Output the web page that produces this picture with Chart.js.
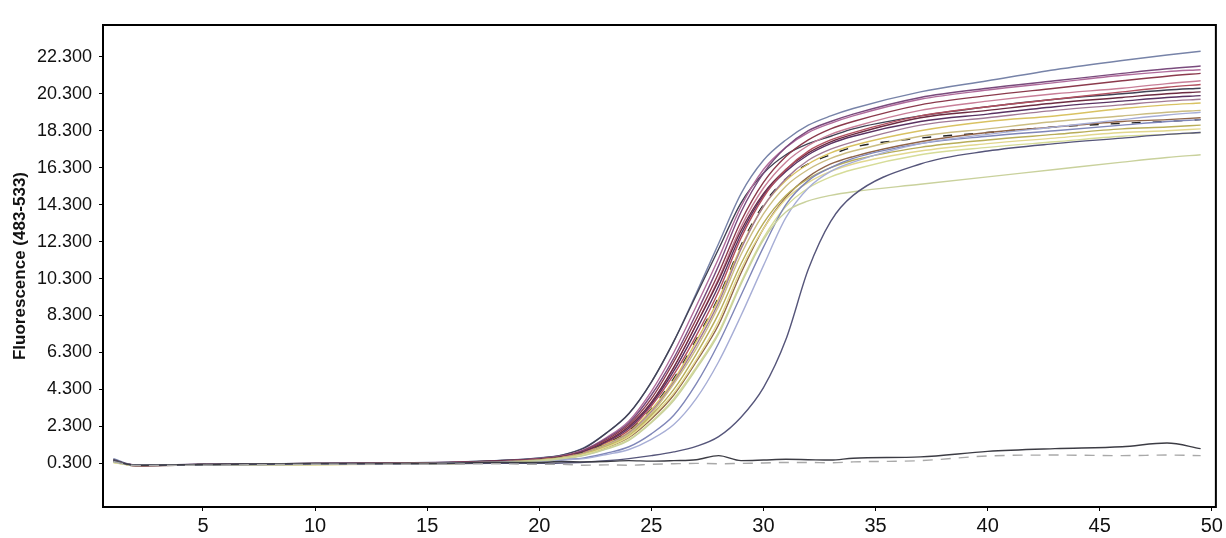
<!DOCTYPE html>
<html>
<head>
<meta charset="utf-8">
<script src="https://cdn.jsdelivr.net/npm/chart.js@4.4.1/dist/chart.umd.min.js"></script>
<style>
  body { margin: 0; background: #fff; }
  #wrap { width: 1226px; height: 538px; }
</style>
</head>
<body>
<div id="wrap"><canvas id="pcrChart" width="1226" height="538"></canvas></div>
<script>
const cycles = [1, 2, 5, 10, 15, 18, 20, 21, 22, 23, 24, 25, 26, 27, 28, 29, 30, 31, 32, 33, 34, 37, 40, 43, 46, 48, 49.5];
const xTicks = [5, 10, 15, 20, 25, 30, 35, 40, 45, 50];
const yTicks = [0.3, 2.3, 4.3, 6.3, 8.3, 10.3, 12.3, 14.3, 16.3, 18.3, 20.3, 22.3];

const sampleA = [0.55, 0.2, 0.25, 0.3, 0.35, 0.45, 0.6, 0.75, 1.15, 1.95, 3.0, 4.7, 6.9, 9.5, 12.2, 14.9, 16.7, 17.8, 18.6, 19.1, 19.5, 20.4, 21.0, 21.6, 22.1, 22.4, 22.6];
const sampleB = [0.5, 0.18, 0.22, 0.3, 0.33, 0.44, 0.58, 0.74, 1.12, 1.95, 3.0, 4.7, 6.9, 9.4, 11.9, 14.4, 16.0, 17.0, 17.6, 18.0, 18.4, 19.1, 19.6, 20.0, 20.3, 20.5, 20.6];
const sampleV = [0.45, 0.22, 0.24, 0.28, 0.34, 0.42, 0.56, 0.7, 1.05, 1.7, 2.6, 4.2, 6.3, 8.8, 11.4, 14.2, 16.2, 17.4, 18.2, 18.7, 19.1, 20.0, 20.5, 20.9, 21.3, 21.5, 21.6];
const sampleC = [0.4, 0.2, 0.25, 0.3, 0.3, 0.4, 0.55, 0.69, 1.02, 1.65, 2.5, 4.0, 6.0, 8.4, 11.0, 13.9, 16.0, 17.4, 18.3, 18.8, 19.2, 20.1, 20.6, 21.0, 21.4, 21.65, 21.8];
const sampleD = [0.42, 0.18, 0.23, 0.27, 0.32, 0.41, 0.54, 0.68, 0.98, 1.58, 2.4, 3.8, 5.8, 8.1, 10.6, 13.4, 15.5, 16.9, 17.8, 18.4, 18.8, 19.7, 20.2, 20.6, 21.0, 21.25, 21.4];
const sampleE = [0.4, 0.2, 0.22, 0.26, 0.3, 0.4, 0.52, 0.66, 0.95, 1.5, 2.3, 3.6, 5.5, 7.8, 10.3, 13.1, 15.2, 16.6, 17.5, 18.1, 18.5, 19.4, 19.9, 20.3, 20.6, 20.85, 21.0];
const sampleW = [0.48, 0.16, 0.24, 0.29, 0.31, 0.43, 0.53, 0.66, 0.95, 1.5, 2.3, 3.6, 5.5, 7.8, 10.2, 12.9, 14.9, 16.2, 17.1, 17.7, 18.1, 19.0, 19.4, 19.8, 20.1, 20.3, 20.4];
const sampleF = [0.45, 0.2, 0.23, 0.27, 0.3, 0.4, 0.51, 0.65, 0.93, 1.45, 2.2, 3.5, 5.3, 7.5, 9.9, 12.7, 14.8, 16.1, 17.0, 17.6, 18.0, 18.8, 19.2, 19.6, 19.9, 20.1, 20.2];
const sampleG = [0.42, 0.19, 0.22, 0.25, 0.3, 0.38, 0.5, 0.64, 0.9, 1.4, 2.1, 3.4, 5.1, 7.2, 9.6, 12.5, 14.7, 16.2, 17.2, 17.8, 18.2, 19.1, 19.6, 20.0, 20.4, 20.65, 20.8];
const sampleH = [0.4, 0.2, 0.21, 0.25, 0.28, 0.37, 0.49, 0.62, 0.87, 1.35, 2.0, 3.2, 4.8, 6.9, 9.2, 12.0, 14.2, 15.6, 16.5, 17.1, 17.5, 18.3, 18.8, 19.1, 19.5, 19.7, 19.8];
const sampleO = [0.45, 0.2, 0.24, 0.28, 0.3, 0.38, 0.5, 0.63, 0.89, 1.38, 2.05, 3.25, 4.9, 7.0, 9.3, 12.1, 14.3, 15.7, 16.5, 17.0, 17.4, 17.9, 18.2, 18.5, 18.7, 18.8, 18.9];
const sampleL = [0.4, 0.19, 0.23, 0.27, 0.3, 0.38, 0.48, 0.6, 0.85, 1.3, 1.95, 3.1, 4.7, 6.7, 9.0, 11.9, 14.2, 15.7, 16.7, 17.3, 17.7, 18.6, 19.0, 19.4, 19.7, 19.9, 20.0];
const sampleI = [0.38, 0.21, 0.22, 0.26, 0.29, 0.36, 0.47, 0.6, 0.83, 1.27, 1.9, 3.0, 4.6, 6.5, 8.8, 11.6, 13.8, 15.3, 16.2, 16.8, 17.2, 18.0, 18.4, 18.8, 19.1, 19.3, 19.4];
const sampleJ = [0.36, 0.2, 0.2, 0.24, 0.28, 0.35, 0.46, 0.58, 0.8, 1.22, 1.8, 2.9, 4.3, 6.2, 8.4, 11.1, 13.3, 14.8, 15.7, 16.3, 16.7, 17.4, 17.8, 18.1, 18.4, 18.5, 18.6];
const sampleM = [0.42, 0.2, 0.24, 0.27, 0.31, 0.37, 0.45, 0.56, 0.77, 1.15, 1.7, 2.7, 4.0, 5.8, 7.8, 10.6, 13.0, 14.7, 15.8, 16.5, 16.9, 17.7, 18.2, 18.5, 18.8, 18.9, 19.0];
const sampleK = [0.35, 0.18, 0.2, 0.23, 0.27, 0.34, 0.45, 0.57, 0.78, 1.18, 1.75, 2.8, 4.1, 5.9, 8.0, 10.8, 13.0, 14.6, 15.5, 16.1, 16.5, 17.2, 17.6, 17.9, 18.2, 18.3, 18.4];
const sampleN = [0.36, 0.2, 0.21, 0.24, 0.27, 0.33, 0.44, 0.55, 0.74, 1.1, 1.6, 2.55, 3.8, 5.5, 7.4, 10.1, 12.5, 14.2, 15.2, 15.8, 16.2, 17.0, 17.4, 17.7, 18.0, 18.1, 18.2];
const sampleR = [0.38, 0.19, 0.22, 0.25, 0.28, 0.34, 0.44, 0.55, 0.73, 1.07, 1.55, 2.5, 3.7, 5.4, 7.3, 10.0, 12.4, 13.9, 14.5, 14.8, 15.0, 15.4, 15.8, 16.2, 16.6, 16.85, 17.0];
const sampleP = [0.45, 0.2, 0.24, 0.27, 0.3, 0.36, 0.42, 0.5, 0.6, 0.85, 1.2, 1.9, 2.9, 4.6, 6.8, 9.4, 12.0, 14.3, 15.6, 16.3, 16.8, 17.6, 18.0, 18.3, 18.6, 18.8, 18.9];
const sampleQ = [0.4, 0.2, 0.22, 0.25, 0.28, 0.34, 0.4, 0.48, 0.56, 0.78, 1.05, 1.6, 2.4, 3.8, 5.8, 8.3, 11.0, 13.6, 15.2, 16.1, 16.6, 17.6, 18.1, 18.5, 18.9, 19.15, 19.3];
const sampleLate = [0.42, 0.2, 0.23, 0.26, 0.28, 0.3, 0.3, 0.32, 0.36, 0.44, 0.56, 0.72, 0.92, 1.22, 1.75, 2.8, 4.4, 7.0, 10.8, 13.4, 14.8, 16.5, 17.2, 17.6, 17.9, 18.1, 18.2];
const ntcDark = [0.45, 0.2, 0.24, 0.3, 0.3, 0.35, 0.35, 0.4, 0.38, 0.4, 0.45, 0.42, 0.45, 0.5, 0.72, 0.45, 0.48, 0.52, 0.5, 0.48, 0.58, 0.65, 0.95, 1.1, 1.2, 1.4, 1.1];
const ntcLight = [0.4, 0.18, 0.2, 0.25, 0.25, 0.28, 0.25, 0.25, 0.2, 0.22, 0.2, 0.25, 0.28, 0.3, 0.28, 0.3, 0.32, 0.35, 0.35, 0.33, 0.38, 0.45, 0.7, 0.75, 0.72, 0.75, 0.72];

const curves = [
  { values: ntcLight, color: '#a9a9a9', dash: [10, 8] },
  { values: ntcDark, color: '#3c3c44' },
  { values: sampleLate, color: '#55557a' },
  { values: sampleR, color: '#c9d19c' },
  { values: sampleQ, color: '#a7aed6' },
  { values: sampleP, color: '#7f86b8' },
  { values: sampleN, color: '#d6dc98' },
  { values: sampleK, color: '#e2d88e' },
  { values: sampleJ, color: '#b8ad58' },
  { values: sampleM, color: '#8f6448' },
  { values: sampleI, color: '#cbbd82' },
  { values: sampleL, color: '#a27a96' },
  { values: sampleH, color: '#d9c262' },
  { values: sampleO, color: '#222222', dash: [9, 12] },
  { values: sampleG, color: '#b2505f' },
  { values: sampleF, color: '#5a3262' },
  { values: sampleW, color: '#6c2b42' },
  { values: sampleE, color: '#c87f98' },
  { values: sampleD, color: '#8b3a4c' },
  { values: sampleC, color: '#7a4b7d' },
  { values: sampleV, color: '#b06b9b' },
  { values: sampleB, color: '#424254' },
  { values: sampleA, color: '#7783a8' }
];

const labelFont = "'Liberation Sans', Arial, sans-serif";

const frame = {
  id: 'frame',
  afterDraw(chart) {
    const { ctx, chartArea: a } = chart;
    ctx.save();
    ctx.strokeStyle = '#000';
    ctx.lineWidth = 2;
    ctx.strokeRect(a.left, a.top, a.right - a.left, a.bottom - a.top);
    ctx.restore();
  }
};

new Chart(document.getElementById('pcrChart'), {
  type: 'line',
  data: {
    datasets: curves.map((c, i) => ({
      label: 'Sample ' + (i + 1),
      data: cycles.map((x, j) => ({ x: x, y: c.values[j] })),
      borderColor: c.color,
      borderWidth: 1.4,
      borderDash: c.dash || [],
      pointRadius: 0,
      cubicInterpolationMode: 'monotone',
      fill: false
    }))
  },
  options: {
    responsive: false,
    animation: false,
    layout: { padding: { top: 25, right: 10, left: 0, bottom: 0 } },
    plugins: { legend: { display: false }, tooltip: { enabled: false } },
    scales: {
      x: {
        type: 'linear',
        min: 0.54,
        max: 50.18,
        afterBuildTicks: (scale) => { scale.ticks = xTicks.map(v => ({ value: v })); },
        afterFit: (scale) => { scale.height = 31; },
        grid: { drawOnChartArea: false, tickLength: 4, color: '#000' },
        border: { display: false },
        ticks: {
          color: '#111',
          padding: 3,
          maxRotation: 0,
          font: { family: labelFont, size: 20 },
          callback: (v) => String(v)
        }
      },
      y: {
        type: 'linear',
        min: -2.06,
        max: 24.02,
        afterBuildTicks: (scale) => { scale.ticks = yTicks.map(v => ({ value: v })); },
        afterFit: (scale) => { scale.width = 103; },
        grid: { drawOnChartArea: false, tickLength: 4, color: '#000' },
        border: { display: false },
        ticks: {
          color: '#111',
          padding: 7,
          font: { family: labelFont, size: 18 },
          callback: (v) => Number(v).toFixed(3)
        },
        title: {
          display: true,
          text: 'Fluorescence (483-533)',
          color: '#111',
          padding: { top: 10, bottom: 0 },
          font: { family: labelFont, size: 17, weight: 'bold' }
        }
      }
    }
  },
  plugins: [frame]
});
</script>
</body>
</html>
